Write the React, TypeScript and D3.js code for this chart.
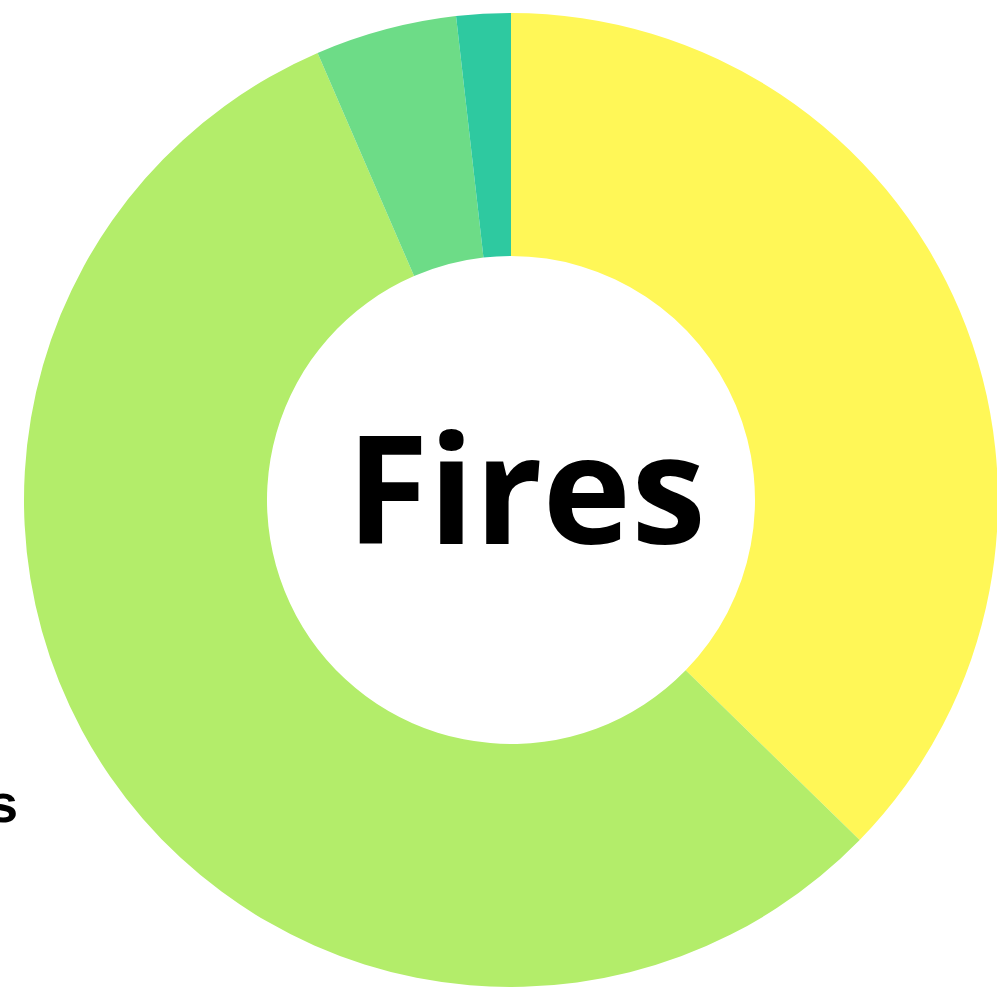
import React from "react";
import * as d3 from "d3";

const categories = ["A", "B", "C", "D"];
const values = [37.3, 56.2, 4.7, 1.8];
const colors = ["#fff757", "#b3ed6a", "#6ddc87", "#2ec9a0"];
const centerLabel = "Fires";
const sideLabel = "Other fires";

export default function App() {
  const W = 997, H = 988;
  const cx = 511, cy = 500;
  const outer = 487, inner = 244;
  const pie = d3.pie<number>().sort(null).value((d) => d);
  const arcs = pie(values);
  const arc = d3.arc<d3.PieArcDatum<number>>().innerRadius(inner).outerRadius(outer);
  return (
    <svg width={W} height={H} style={{ position: "absolute", left: 0, top: 0 }}>
      <g transform={`translate(${cx},${cy})`}>
        {arcs.map((a, i) => (
          <path key={categories[i]} d={arc(a) || ""} fill={colors[i]} />
        ))}
      </g>
      <text x={526} y={544} textAnchor="middle" fontFamily="'Open Sans'" fontWeight={700} fontSize={150} fill="#000">
        {centerLabel}
      </text>
      <text x={18} y={822} textAnchor="end" fontFamily="'Liberation Sans', Arial" fontWeight={700} fontSize={54} fill="#000">
        {sideLabel}
      </text>
    </svg>
  );
}
